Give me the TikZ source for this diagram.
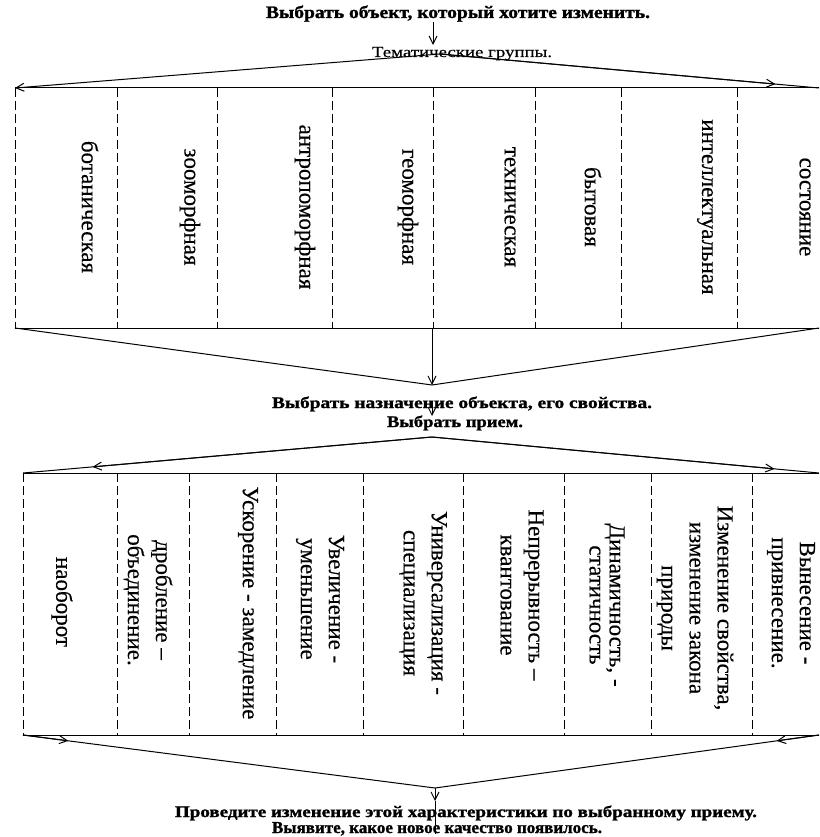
\documentclass[tikz,border=0pt]{standalone}
\usepackage{fontspec}
\setmainfont{Liberation Serif}
\newfontfamily\heavyfont{Liberation Serif}[BoldFeatures={FakeBold=1.3}]
\newfontfamily\labelfont{Liberation Serif}[FakeBold=0.4]
\usetikzlibrary{arrows.meta,calc}
\begin{document}
\begin{tikzpicture}[x=1pt,y=-1pt,
  lbl/.style={rotate=-90, font=\labelfont\fontsize{23}{28}\selectfont, align=center, inner sep=0pt},
  sep/.style={dash pattern=on 9pt off 4pt, line width=1pt},
  ln/.style={line width=1pt},
  arr/.style={ln, -{Straight Barb[length=8pt,width=8pt]}},
  ttl/.style={inner sep=0pt, anchor=base}]
\useasboundingbox (0,0) rectangle (819,837);
% titles
\node[ttl] (t1) at (458,18) {\resizebox{384pt}{12.5pt}{\heavyfont\bfseries Выбрать объект, который хотите изменить.}};
\node[ttl] (tg) at (462,57) {\resizebox{180pt}{10pt}{\labelfont Тематические группы.}};
\coordinate (a0) at (433,22);
\coordinate (a0e) at (433,45);
\draw[arr] (a0) -- (a0e);
% top fan
\coordinate (apex1) at (440,54);
\coordinate (b1tl) at (15,88);
\coordinate (b1tr) at (819,88);
\coordinate (b1bl) at (15,328);
\coordinate (b1br) at (819,328);
\draw[arr] (apex1) -- (b1tl);
\draw[ln] (apex1) -- (b1tr);
\draw[arr] (apex1) -- ($(apex1)!0.885!(b1tr)$);
% box 1
\draw[ln] (b1tl) -- (b1tr);
\draw[ln] (b1bl) -- (b1br);
\foreach \x in {15,117,217,332,433,535,621,737}{\draw[sep] (\x,88) -- (\x,328);}
\node[lbl] (g1) at (90,207) {ботаническая};
\node[lbl] (g2) at (190,207) {зооморфная};
\node[lbl] (g3) at (305,207) {антропоморфная};
\node[lbl] (g4) at (408,207) {геоморфная};
\node[lbl] (g5) at (510,207) {техническая};
\node[lbl] (g6) at (593,207) {бытовая};
\node[lbl] (g7) at (705,207) {интеллектуальная};
\node[lbl] (g8) at (805,207) {состояние};
% funnel to second title
\coordinate (apex2) at (432,385);
\coordinate (b1bm) at (432,328);
\draw[ln] (b1bl) -- (apex2) -- (b1br);
\draw[arr] (b1bm) -- (apex2);
\node[ttl] (t2) at (462,408) {\resizebox{380pt}{11.5pt}{\heavyfont\bfseries Выбрать назначение объекта, его свойства.}};
\node[ttl] (t3) at (455,427) {\resizebox{136pt}{11.5pt}{\heavyfont\bfseries Выбрать прием.}};
\coordinate (a1) at (432,401);
\coordinate (a1e) at (432,416);
\draw[arr] (a1) -- (a1e);
% second fan
\coordinate (apex3) at (432,437);
\coordinate (b2tl) at (23,473);
\coordinate (b2tr) at (819,473);
\coordinate (b2bl) at (23,735);
\coordinate (b2br) at (819,735);
\draw[ln] (apex3) -- (b2tl);
\draw[ln] (apex3) -- (b2tr);
\draw[arr] (apex3) -- ($(apex3)!0.83!(b2tl)$);
\draw[arr] (apex3) -- ($(apex3)!0.885!(b2tr)$);
% box 2
\draw[ln] (b2tl) -- (b2tr);
\draw[ln] (b2bl) -- (b2br);
\foreach \x in {23,117,189,276,363,463,564,651,752}{\draw[sep] (\x,473) -- (\x,735);}
\node[lbl] (p1) at (62,602) {наоборот};
\node[lbl] (p2) at (148,600) {дробление –\\объединение.};
\node[lbl] (p3) at (248,603) {Ускорение - замедление};
\node[lbl] (p4) at (320,599) {Увеличение -\\уменьшение};
\node[lbl] (p5) at (423,603) {Универсализация -\\специализация};
\node[lbl] (p6) at (522,595) {Непрерывность –\\квантование};
\node[lbl] (p7) at (607,605) {Динамичность, -\\[-8pt]статичность};
\node[lbl] (p8) at (695,608) {Изменение свойства,\\изменение закона\\природы};
\node[lbl] (p9) at (791,603) {Вынесение -\\привнесение.};
% bottom fan
\coordinate (apex4) at (435,788);
\draw[ln] (b2bl) -- (apex4) -- (b2br);
\draw[arr] (b2bl) -- ($(b2bl)!0.11!(apex4)$);
\draw[arr] (b2br) -- ($(b2br)!0.11!(apex4)$);
\coordinate (a2) at (435,801);
\coordinate (a2e) at (435,834);
\draw[arr] (apex4) -- (a2);
\draw[ln] (a2) -- (a2e);
\node[ttl] (t4) at (466,817) {\resizebox{582pt}{11.5pt}{\heavyfont\bfseries Проведите изменение этой характеристики по выбранному приему.}};
\node[ttl] (t5) at (437,833) {\resizebox{330pt}{11pt}{\heavyfont\bfseries Выявите, какое новое качество появилось.}};
\end{tikzpicture}
\end{document}
